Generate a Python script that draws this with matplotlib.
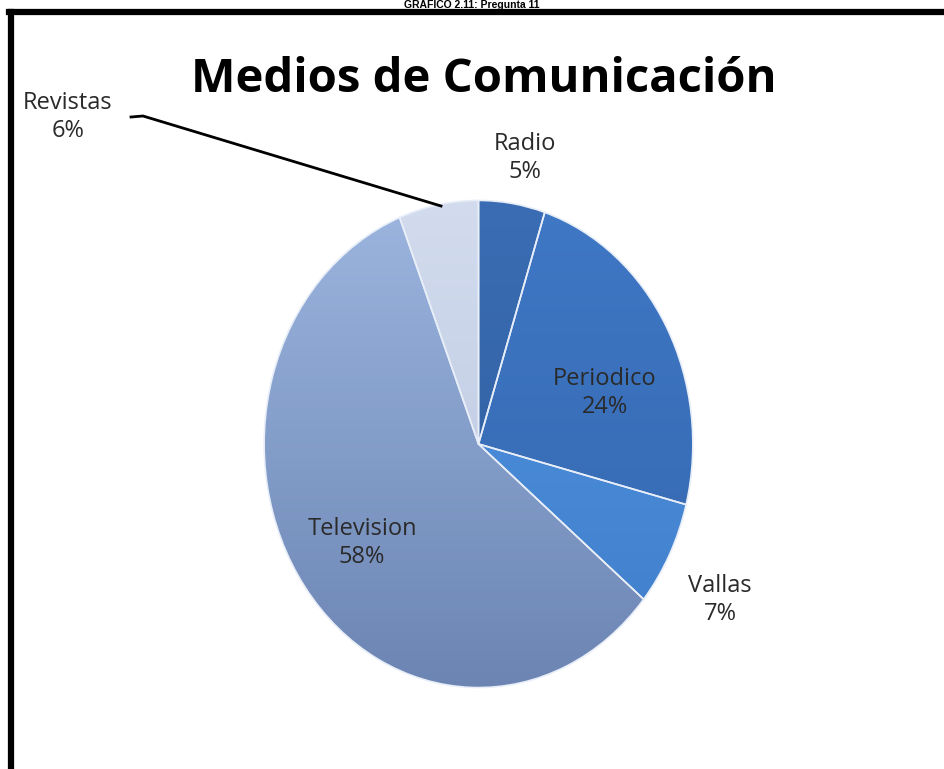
import numpy as np
import matplotlib
matplotlib.use("Agg")
import matplotlib.pyplot as plt
from matplotlib.lines import Line2D
from matplotlib.colors import LinearSegmentedColormap

header = "GRAFICO 2.11: Pregunta 11"
title = "Medios de Comunicación"
categories = ["Radio", "Periodico", "Vallas", "Television", "Revistas"]
values = [5, 24, 7, 58, 6]
pct_labels = ["5%", "24%", "7%", "58%", "6%"]

top_colors = ["#3a6db4", "#3f78c6", "#5296e6", "#9cb6e0", "#d3dcee"]
bot_colors = ["#2f5c9c", "#3466ad", "#3f7dc8", "#6b84b2", "#b7c4df"]

W, H = 944, 769
fig = plt.figure(figsize=(W / 100, H / 100), dpi=100)
fig.patch.set_facecolor("white")

def fx(x):
    return x / W

def fy(y):
    return 1 - y / H

# frame (open at right and bottom)
fig.add_artist(Line2D([fx(11), fx(11)], [fy(12), fy(769)], color="black", lw=4.5, transform=fig.transFigure))
fig.add_artist(Line2D([fx(9), fx(944)], [fy(12), fy(12)], color="black", lw=4.5, transform=fig.transFigure))

# header
fig.text(0.5, fy(0.5), header, ha="center", va="top", fontsize=7.5, fontweight="bold",
         family="Liberation Sans")

fig.text(fx(484), fy(80), title, ha="center", va="center", fontsize=34, fontweight="bold",
         family="Open Sans")

# pie axes
x0, x1, y0, y1 = 262, 695, 198, 690
ax = fig.add_axes([fx(x0), fy(y1), (x1 - x0) / W, (y1 - y0) / H])
wedges, _ = ax.pie(values, startangle=90, counterclock=False, radius=1,
                   colors=top_colors,
                   wedgeprops=dict(edgecolor="#e8eef8", linewidth=1.2))
ax.set_aspect("auto")
ax.axis("off")

yy = np.linspace(1, 0, 256).reshape(-1, 1) * np.ones((1, 4))
for w, c1, c2 in zip(wedges, top_colors, bot_colors):
    cmap = LinearSegmentedColormap.from_list("g", [c2, c1])
    im = ax.imshow(yy, extent=(-1.02, 1.02, -1.02, 1.02), cmap=cmap, aspect="auto",
                   origin="upper", zorder=w.get_zorder() + 0.1)
    im.set_clip_path(w)
    w.set_zorder(w.get_zorder() + 0.2)
    w.set_facecolor("none")
ax.set_xlim(-1.01, 1.01)
ax.set_ylim(-1.01, 1.01)

lab_pos = {
    "Radio": (525, 158),
    "Periodico": (605, 393),
    "Vallas": (720, 600),
    "Television": (362, 543),
    "Revistas": (68, 117),
}
for cat, pct in zip(categories, pct_labels):
    x, y = lab_pos[cat]
    fig.text(fx(x), fy(y), f"{cat}\n{pct}", ha="center", va="center", fontsize=17,
             family="Open Sans", linespacing=1.25, color="#2a2a2a")

# leader line for Revistas
fig.add_artist(Line2D([fx(131), fx(143), fx(441)], [fy(117), fy(116), fy(206)],
                      color="black", lw=2, transform=fig.transFigure))

fig.savefig("out.png", dpi=100)
